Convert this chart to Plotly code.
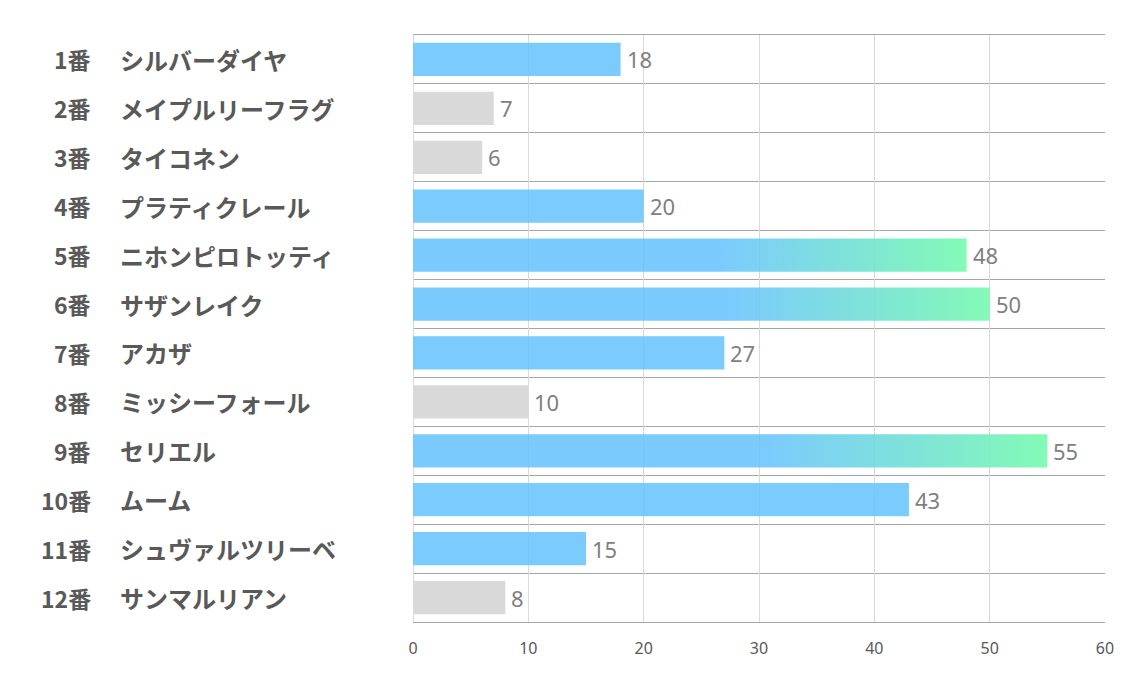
import plotly.graph_objects as go

numbers = ["1番", "2番", "3番", "4番", "5番", "6番", "7番", "8番", "9番", "10番", "11番", "12番"]
names = ["シルバーダイヤ", "メイプルリーフラグ", "タイコネン", "プラティクレール", "ニホンピロトッティ",
         "サザンレイク", "アカザ", "ミッシーフォール", "セリエル", "ムーム", "シュヴァルツリーベ", "サンマルリアン"]
values = [18, 7, 6, 20, 48, 50, 27, 10, 55, 43, 15, 8]
x_ticks = [0, 10, 20, 30, 40, 50, 60]

BLUE = "rgba(101,194,253,0.86)"
GREEN = "rgba(120,250,175,0.92)"
GRAY = "#d9d9d9"
BAR_W = 0.68

top3 = sorted(values, reverse=True)[:3]
idx = list(range(len(values)))

fig = go.Figure()

# plain bars
plain_y, plain_x, plain_c = [], [], []
for i, v in enumerate(values):
    if v in top3:
        continue
    plain_y.append(i)
    plain_x.append(v)
    plain_c.append(GRAY if v <= 10 else BLUE)
fig.add_trace(go.Bar(x=plain_x, y=plain_y, orientation="h", width=BAR_W,
                     marker=dict(color=plain_c, line=dict(width=0)),
                     hoverinfo="skip", showlegend=False))

# gradient bars
for i, v in enumerate(values):
    if v not in top3:
        continue
    y0, y1 = i - BAR_W / 2, i + BAR_W / 2
    fig.add_trace(go.Scatter(
        x=[0, v, v, 0, 0], y=[y0, y0, y1, y1, y0], mode="lines", fill="toself",
        line=dict(width=0), hoverinfo="skip", showlegend=False,
        fillgradient=dict(type="horizontal", start=0, stop=v,
                          colorscale=[[0, BLUE], [0.55, BLUE], [1, GREEN]])))

W, H = 1134, 680
L, R, T, B = 405, 37, 27, 66
pw = W - L - R
PAD = 8  # page body margin

# value labels
for i, v in enumerate(values):
    fig.add_annotation(x=v, y=i, xref="x", yref="y", text=str(v), showarrow=False,
                       xanchor="left", xshift=4,
                       font=dict(family="Noto Sans", size=22, color="#7f7f7f"))

for i in idx:
    fig.add_annotation(x=(93 - PAD - L) / pw, y=i, xref="paper", yref="y", text=numbers[i],
                       showarrow=False, xanchor="right",
                       font=dict(family="Noto Sans CJK JP", size=23, color="#595959", weight="bold"))
    fig.add_annotation(x=(118 - PAD - L) / pw, y=i, xref="paper", yref="y", text=names[i],
                       showarrow=False, xanchor="left",
                       font=dict(family="Noto Sans CJK JP", size=24, color="#595959", weight="bold"))

fig.update_layout(
    width=W, height=H, margin=dict(l=L, r=R, t=T, b=B),
    plot_bgcolor="white", paper_bgcolor="white",
    xaxis=dict(range=[0, 60], tickvals=x_ticks, showgrid=True, gridcolor="#d9d9d9", gridwidth=1,
               zeroline=True, zerolinecolor="#d9d9d9", zerolinewidth=1,
               showline=True, mirror=True, linecolor="#a6a6a6", linewidth=1,
               ticks="", ticklabelstandoff=12,
               tickfont=dict(family="Noto Sans", size=16, color="#595959"), fixedrange=True),
    yaxis=dict(range=[11.5, -0.5], showticklabels=False, showgrid=False, zeroline=False,
               ticks="", tickvals=idx,
               minor=dict(tickmode="linear", tick0=-0.5, dtick=1, showgrid=True,
                          gridcolor="#a6a6a6", gridwidth=1),
               fixedrange=True),
    bargap=0.3,
)

fig.write_html("out.html")
